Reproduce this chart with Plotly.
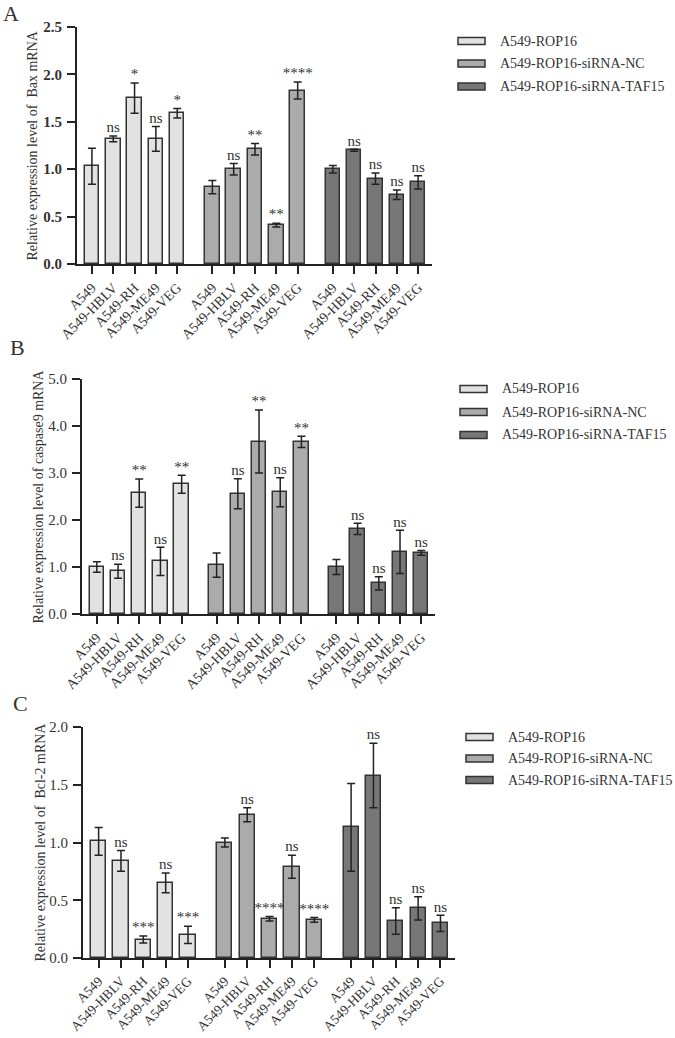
import plotly.graph_objects as go

W, H = 675, 1038

categories = ["A549", "A549-HBLV", "A549-RH", "A549-ME49", "A549-VEG"]
groups = ["A549-ROP16", "A549-ROP16-siRNA-NC", "A549-ROP16-siRNA-TAF15"]
group_colors = ["#e2e2e2", "#ababab", "#777777"]

# Panel A: Bax
bax_rop16 = [1.03, 1.32, 1.75, 1.32, 1.59]
bax_rop16_err = [0.19, 0.03, 0.16, 0.13, 0.05]
bax_nc = [0.81, 1.00, 1.21, 0.41, 1.83]
bax_nc_err = [0.07, 0.06, 0.06, 0.02, 0.09]
bax_taf15 = [1.00, 1.20, 0.90, 0.73, 0.86]
bax_taf15_err = [0.04, 0.01, 0.06, 0.05, 0.07]
bax_sig_rop16 = ["", "ns", "*", "ns", "*"]
bax_sig_nc = ["", "ns", "**", "**", "****"]
bax_sig_taf15 = ["", "ns", "ns", "ns", "ns"]

# Panel B: caspase9
casp_rop16 = [1.00, 0.91, 2.57, 1.12, 2.76]
casp_rop16_err = [0.11, 0.15, 0.30, 0.30, 0.19]
casp_nc = [1.04, 2.56, 3.67, 2.59, 3.66]
casp_nc_err = [0.26, 0.32, 0.67, 0.31, 0.12]
casp_taf15 = [1.00, 1.81, 0.65, 1.32, 1.30]
casp_taf15_err = [0.16, 0.12, 0.14, 0.46, 0.05]
casp_sig_rop16 = ["", "ns", "**", "ns", "**"]
casp_sig_nc = ["", "ns", "**", "ns", "**"]
casp_sig_taf15 = ["", "ns", "ns", "ns", "ns"]

# Panel C: Bcl-2
bcl_rop16 = [1.01, 0.84, 0.16, 0.65, 0.20]
bcl_rop16_err = [0.12, 0.09, 0.03, 0.085, 0.075]
bcl_nc = [1.00, 1.24, 0.34, 0.79, 0.33]
bcl_nc_err = [0.04, 0.06, 0.02, 0.10, 0.02]
bcl_taf15 = [1.13, 1.58, 0.32, 0.43, 0.30]
bcl_taf15_err = [0.38, 0.28, 0.115, 0.10, 0.07]
bcl_sig_rop16 = ["", "ns", "***", "ns", "***"]
bcl_sig_nc = ["", "ns", "****", "ns", "****"]
bcl_sig_taf15 = ["", "ns", "ns", "ns", "ns"]

panels = [
    dict(vals=[bax_rop16, bax_nc, bax_taf15],
         errs=[bax_rop16_err, bax_nc_err, bax_taf15_err],
         sigs=[bax_sig_rop16, bax_sig_nc, bax_sig_taf15],
         title="Relative expression level of  Bax mRNA",
         yrange=[0, 2.5], dtick=0.5, bold=True, xfont=14,
         xpx=[77, 432], ypx=[264, 27], title_x=32, label="A",
         label_pos=(11, 13), leg_x=458, leg_rows=[41, 63.5, 86.5]),
    dict(vals=[casp_rop16, casp_nc, casp_taf15],
         errs=[casp_rop16_err, casp_nc_err, casp_taf15_err],
         sigs=[casp_sig_rop16, casp_sig_nc, casp_sig_taf15],
         title="Relative expression level of caspase9 mRNA",
         yrange=[0, 5.0], dtick=1.0, bold=False, xfont=14,
         xpx=[82, 435], ypx=[614, 379], title_x=38, label="B",
         label_pos=(17, 347), leg_x=460, leg_rows=[389, 412, 435]),
    dict(vals=[bcl_rop16, bcl_nc, bcl_taf15],
         errs=[bcl_rop16_err, bcl_nc_err, bcl_taf15_err],
         sigs=[bcl_sig_rop16, bcl_sig_nc, bcl_sig_taf15],
         title="Relative expression level of  Bcl-2 mRNA",
         yrange=[0, 2.0], dtick=0.5, bold=False, xfont=13.5,
         xpx=[83, 455], ypx=[958, 727], title_x=40, label="C",
         label_pos=(20, 703), leg_x=466, leg_rows=[737, 758.5, 780]),
]

GROUP_STEP = 5.65
FONT = "Liberation Serif, Times New Roman, serif"
TXT = "#333333"
LINE = "#222222"

fig = go.Figure()
annotations = []
shapes = []
layout = dict(
    width=W, height=H, margin=dict(l=0, r=0, t=0, b=0),
    paper_bgcolor="white", plot_bgcolor="white",
    font=dict(family=FONT, color=TXT, size=12),
    bargap=0, barmode="overlay", showlegend=False,
)

tickvals = []
ticktext = []
for g in range(3):
    for i, c in enumerate(categories):
        tickvals.append(g * GROUP_STEP + i)
        ticktext.append(c)

for p, P in enumerate(panels):
    sfx = "" if p == 0 else str(p + 1)
    xa, ya = "x" + sfx, "y" + sfx
    for g in range(3):
        xs = [g * GROUP_STEP + i for i in range(len(categories))]
        fig.add_trace(go.Bar(
            x=xs, y=P["vals"][g], name=groups[g], width=0.68,
            marker=dict(color=group_colors[g], line=dict(color="#333333", width=1.5)),
            error_y=dict(type="data", array=P["errs"][g], color=LINE, thickness=1.5, width=4),
            xaxis=xa, yaxis=ya,
        ))
        tops = [v + e for v, e in zip(P["vals"][g], P["errs"][g])]
        fig.add_trace(go.Scatter(
            x=xs, y=tops, text=P["sigs"][g], mode="text", textposition="top center",
            textfont=dict(family=FONT, size=15, color=TXT),
            xaxis=xa, yaxis=ya, cliponaxis=False, hoverinfo="skip",
        ))
        # legend entry (swatch + label)
        ry = P["leg_rows"][g]
        lx = P["leg_x"]
        shapes.append(dict(
            type="rect", xref="paper", yref="paper",
            x0=lx / W, x1=(lx + 27) / W, y0=1 - (ry + 3.5) / H, y1=1 - (ry - 3.5) / H,
            fillcolor=group_colors[g], line=dict(color="#333333", width=1.5),
        ))
        annotations.append(dict(
            text=groups[g], x=(lx + 40) / W, y=1 - ry / H, xref="paper", yref="paper",
            xanchor="left", yanchor="middle", showarrow=False,
            font=dict(family=FONT, size=14, color=TXT),
        ))
    x0, x1 = P["xpx"]
    yb, yt = P["ypx"]
    layout["xaxis" + sfx] = dict(
        domain=[x0 / W, x1 / W], anchor=ya, range=[-0.7, 15.95],
        tickmode="array", tickvals=tickvals, ticktext=ticktext, tickangle=-45,
        ticks="outside", ticklen=8, tickwidth=2, tickcolor=LINE,
        showline=True, linewidth=2, linecolor=LINE, showgrid=False, zeroline=False,
        tickfont=dict(family=FONT, size=P["xfont"], color=TXT), fixedrange=True,
        automargin=False,
    )
    layout["yaxis" + sfx] = dict(
        domain=[1 - yb / H, 1 - yt / H], anchor=xa, range=P["yrange"],
        dtick=P["dtick"], tickformat=".1f",
        ticks="outside", ticklen=8, tickwidth=2, tickcolor=LINE,
        showline=True, linewidth=2, linecolor=LINE, showgrid=False, zeroline=False,
        tickfont=dict(family=FONT, size=15, color=TXT,
                      weight="bold" if P["bold"] else "normal"),
        ticklabelstandoff=2, fixedrange=True, automargin=False,
    )
    annotations.append(dict(
        text=P["title"], textangle=-90, x=P["title_x"] / W, y=1 - (yb + yt) / 2 / H,
        xref="paper", yref="paper", xanchor="center", yanchor="middle", showarrow=False,
        font=dict(family=FONT, size=14, color=TXT),
    ))
    lx, ly = P["label_pos"]
    annotations.append(dict(
        text=P["label"], x=lx / W, y=1 - ly / H, xref="paper", yref="paper",
        xanchor="center", yanchor="middle",
        showarrow=False, font=dict(family=FONT, size=22, color=TXT),
    ))

layout["annotations"] = annotations
layout["shapes"] = shapes
fig.update_layout(**layout)
fig.write_html("out.html")
